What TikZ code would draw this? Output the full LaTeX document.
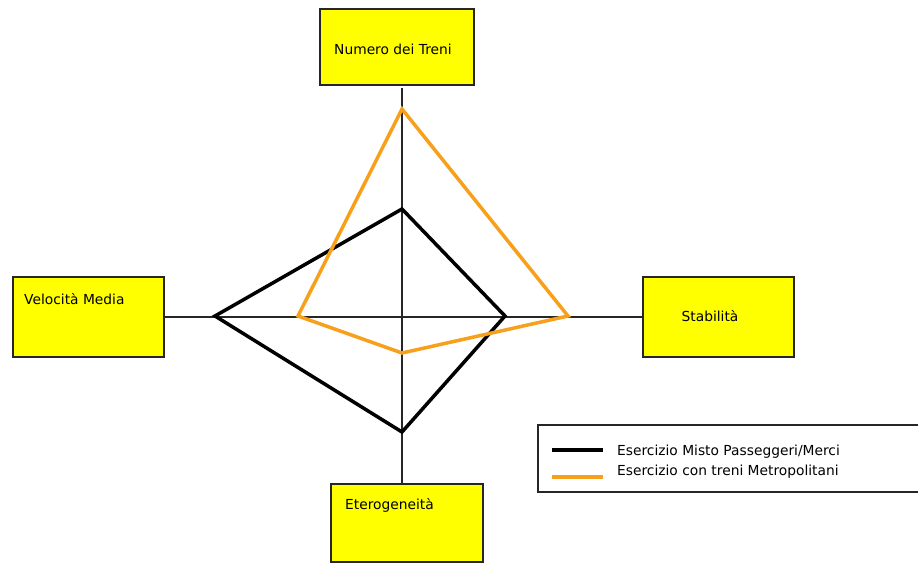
\documentclass[tikz,border=0pt]{standalone}
\usepackage{fontspec}
\setmainfont{DejaVu Sans}
\definecolor{boxyellow}{RGB}{255,255,0}
\definecolor{lineorange}{RGB}{247,160,28}
\begin{document}
\begin{tikzpicture}[x=1pt,y=-1pt,
  ybox/.style={draw=black!85,line width=2pt,fill=boxyellow,inner sep=0pt,anchor=north west},
  lbl/.style={font=\fontsize{13.8}{16}\selectfont,inner sep=0pt},
  axis/.style={line width=1.5pt,black!85},
  poly/.style={line width=3.5pt,line join=miter}]
\useasboundingbox (0,0) rectangle (918,563);
% boxes
\node[ybox,minimum width=154pt,minimum height=76pt] (top) at (319,8) {};
\node[ybox,minimum width=151pt,minimum height=80pt] (left) at (12,276) {};
\node[ybox,minimum width=151pt,minimum height=80pt] (right) at (642,276) {};
\node[ybox,minimum width=152pt,minimum height=78pt] (bottom) at (330,483) {};
% labels
\node[lbl] (ttop) at (393,49) {Numero dei Treni};
\node[lbl,anchor=west] (tleft) at (24,299) {Velocità Media};
\node[lbl] (tright) at (710,316) {Stabilità};
\node[lbl,anchor=west] (tbottom) at (345,505) {Eterogeneità};
% axes
\coordinate (vtop) at (402,88);
\coordinate (vbot) at (402,483);
\draw[axis] (vtop) -- (vbot);
\draw[axis] (left.east) -- (right.west);
% polygons
\coordinate (b1) at (402,209);
\coordinate (b2) at (505,316);
\coordinate (b3) at (402,432);
\coordinate (b4) at (215,316);
\draw[poly,black] (b1) -- (b2) -- (b3) -- (b4) -- cycle;
\coordinate (o1) at (402,109);
\coordinate (o2) at (568,316);
\coordinate (o3) at (402,353);
\coordinate (o4) at (298,316);
\draw[poly,lineorange] (o1) -- (o2) -- (o3) -- (o4) -- cycle;
% legend
\node[draw=black!85,line width=2pt,fill=white,minimum width=390pt,minimum height=67pt,anchor=north west,inner sep=0pt] (legend) at (537,424) {};
\coordinate (l1a) at (552,450);
\coordinate (l1b) at (603,450);
\coordinate (l2a) at (552,477);
\coordinate (l2b) at (603,477);
\draw[line width=4.5pt,black] (l1a) -- (l1b);
\draw[line width=4.5pt,lineorange] (l2a) -- (l2b);
\node[lbl,anchor=west] (leg1) at (617,452) {Esercizio Misto Passeggeri/Merci};
\node[lbl,anchor=west] (leg2) at (617,472) {Esercizio con treni Metropolitani};
\end{tikzpicture}
\end{document}
